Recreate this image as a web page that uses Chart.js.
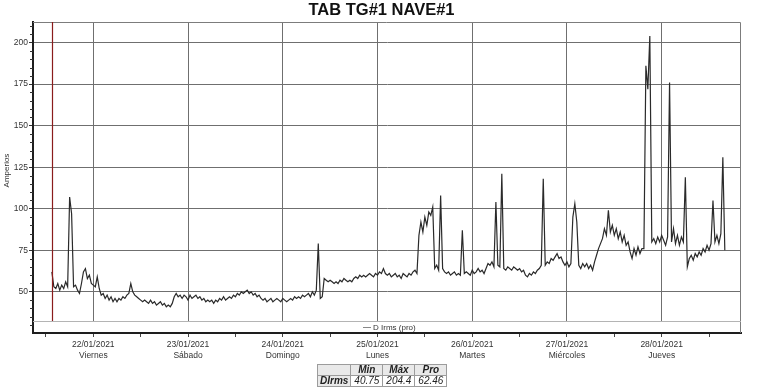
<!DOCTYPE html>
<html>
<head>
<meta charset="utf-8">
<title>TAB TG#1 NAVE#1</title>
<script src="https://cdn.jsdelivr.net/npm/chart.js@4.4.1/dist/chart.umd.min.js"></script>
<style>
  html, body { margin: 0; padding: 0; background: #fff; }
  #wrap { position: relative; width: 763px; height: 389px; }
  #stats {
    position: absolute; left: 317px; top: 364px;
    border-collapse: collapse;
    font-family: "Liberation Sans", Arial, sans-serif;
    font-size: 10px; color: #222;
  }
  #stats td {
    border: 1px solid #9c9c9c; height: 10px; line-height: 10px;
    padding: 0 2px; text-align: center; font-style: italic;
  }
  #stats td.head { background: #e9e9e9; font-weight: bold; }
  #stats td.name { background: #e9e9e9; font-weight: bold; width: 27px; }
  #stats td.val { width: 27px; }
</style>
</head>
<body>
<div id="wrap">
  <canvas id="chart" width="763" height="389"></canvas>
  <table id="stats"></table>
</div>
<script>
// hours counted from 21/01/2021 00:00, one sample every 30 min
const chartTitle = 'TAB TG#1 NAVE#1';
const seriesLabel = 'D Irms (pro)';
const startHour = 13.5;
const stepHours = 0.5;
const irms = [
  62, 53, 52, 55, 51, 54, 52, 56, 53, 107,
  97, 53, 54, 51, 49, 55, 62, 64, 58, 60,
  55, 54, 53, 59, 52, 48, 49, 46, 48, 45,
  47, 44, 46, 44, 46, 45, 47, 46, 48, 49,
  55, 50, 48, 47, 46, 45, 44, 45, 44, 43,
  45, 43, 44, 42, 43, 44, 42, 43, 41, 42,
  41, 43, 47, 49, 47, 48, 46, 48, 47, 45,
  48, 46, 47, 48, 46, 47, 45, 46, 44, 45,
  44, 45, 43, 45, 44, 46, 45, 47, 45, 46,
  47, 46, 48, 47, 49, 48, 50, 49, 50, 51,
  49, 50, 48, 49, 47, 48, 46, 45, 46, 44,
  45, 46, 44, 45, 46, 45, 44, 46, 45, 44,
  45, 46, 45, 47, 46, 47, 46, 48, 47, 48,
  49, 47, 50, 48, 51, 79, 46, 47, 58, 57,
  56, 57, 56, 55, 56, 55, 57, 56, 58, 57,
  56, 57, 56, 58, 59, 58, 60, 59, 60, 59,
  60, 61, 60, 59, 61, 60, 62, 61, 64, 61,
  60, 61, 59, 60, 61, 59, 60, 58, 61, 60,
  59, 61, 60, 62, 63, 61, 84, 92, 86, 95,
  90, 98, 96, 101, 64, 66, 63, 108, 64, 62,
  61, 62, 60, 61, 62, 60, 61, 60, 87, 61,
  62, 61, 60, 63, 61, 62, 64, 62, 63, 61,
  64, 67, 66, 68, 65, 104, 66, 65, 121, 64,
  63, 65, 64, 63, 65, 64, 63, 64, 62, 63,
  60, 59, 61, 60, 62, 61, 63, 64, 66, 118,
  66, 68, 67, 70, 69, 71, 73, 70, 71, 68,
  66, 68, 65, 67, 95, 103, 92, 66, 64, 67,
  65, 67, 64, 66, 63, 68, 72, 76, 79, 82,
  88, 84, 99, 86, 90, 84, 88, 82, 86, 80,
  84, 78, 80, 74, 70, 76, 72, 77, 73, 76,
  76, 186, 172, 204, 80, 82, 79, 83, 80, 84,
  81, 78, 83, 176, 80, 88, 79, 84, 78, 83,
  80, 119, 65, 70, 72, 69, 73, 71, 74, 72,
  76, 74, 78, 75, 79, 105, 80, 84, 79, 85,
  131, 75
];
const xRange = [8.72, 188.1];
const tickHours = [12, 24, 36, 48, 60, 72, 84, 96, 108, 120, 132, 144, 156, 168, 180];
const dayHours = [24, 48, 72, 96, 120, 144, 168];
const dayDates = ['22/01/2021', '23/01/2021', '24/01/2021', '25/01/2021', '26/01/2021', '27/01/2021', '28/01/2021'];
const dayNames = ['Viernes', 'Sábado', 'Domingo', 'Lunes', 'Martes', 'Miércoles', 'Jueves'];
const yRange = [25.2, 212.4];
const yTicks = [50, 75, 100, 125, 150, 175, 200];
const markerHour = 13.5;
const statCols = ['Min', 'Máx', 'Pro'];
const statRow = 'DIrms';
const statVals = ['40.75', '204.4', '62.46'];

Chart.defaults.font.family = '"Liberation Sans", Arial, sans-serif';

const points = irms.map((v, i) => ({ x: startHour + i * stepHours, y: v }));

// extra drawing: frame, red start marker, legend strip, minor y ticks, axis name
const decor = {
  id: 'decor',
  beforeDatasetsDraw(chart) {
    const { ctx, chartArea: a } = chart;
    ctx.save();
    ctx.strokeStyle = '#7c7c7c';
    ctx.lineWidth = 1;
    ctx.beginPath();
    ctx.moveTo(a.left, a.top + 0.5);
    ctx.lineTo(a.right - 0.5, a.top + 0.5);
    ctx.lineTo(a.right - 0.5, a.bottom);
    ctx.stroke();
    ctx.restore();
  },
  afterDatasetsDraw(chart) {
    const { ctx, chartArea: a, scales } = chart;
    const stripTop = a.bottom - 12;
    ctx.save();
    // red marker
    const mx = Math.round(scales.x.getPixelForValue(markerHour)) + 0.5;
    ctx.strokeStyle = '#8a1c1c';
    ctx.lineWidth = 1.2;
    ctx.beginPath();
    ctx.moveTo(mx, a.top);
    ctx.lineTo(mx, stripTop);
    ctx.stroke();
    // legend strip
    ctx.fillStyle = '#fff';
    ctx.fillRect(a.left + 1, stripTop, a.right - a.left - 2, 11);
    ctx.strokeStyle = '#b4b4b4';
    ctx.lineWidth = 1;
    ctx.beginPath();
    ctx.moveTo(a.left, stripTop + 0.5);
    ctx.lineTo(a.right, stripTop + 0.5);
    ctx.stroke();
    ctx.strokeStyle = '#888';
    ctx.beginPath();
    ctx.moveTo(363, stripTop + 6.5);
    ctx.lineTo(371, stripTop + 6.5);
    ctx.stroke();
    ctx.fillStyle = '#333';
    ctx.font = '8px "Liberation Sans", Arial, sans-serif';
    ctx.textBaseline = 'middle';
    ctx.fillText(seriesLabel, 373, stripTop + 6.5);
    // minor ticks on the value axis
    ctx.strokeStyle = '#333';
    ctx.beginPath();
    for (let v = 30; v <= 210; v += 5) {
      if (v % 25 === 0) continue;
      const y = Math.round(scales.y.getPixelForValue(v)) + 0.5;
      ctx.moveTo(a.left - 3, y);
      ctx.lineTo(a.left, y);
    }
    ctx.stroke();
    // axis name
    ctx.translate(7, scales.y.getPixelForValue(123));
    ctx.rotate(-Math.PI / 2);
    ctx.textAlign = 'center';
    ctx.fillText('Amperios', 0, 0);
    ctx.restore();
  }
};

new Chart(document.getElementById('chart'), {
  type: 'line',
  data: {
    datasets: [{
      label: seriesLabel,
      data: points,
      borderColor: '#2a2a2a',
      borderWidth: 1.2,
      pointRadius: 0,
      tension: 0,
      fill: false
    }]
  },
  options: {
    responsive: false,
    animation: false,
    devicePixelRatio: 1,
    events: [],
    layout: { padding: 0 },
    plugins: {
      legend: { display: false },
      tooltip: { enabled: false },
      title: {
        display: true,
        text: chartTitle,
        color: '#111',
        font: { size: 16.5, weight: 'bold' },
        padding: { top: 1, bottom: 1.2 }
      }
    },
    scales: {
      x: {
        type: 'linear',
        min: xRange[0],
        max: xRange[1],
        afterBuildTicks: s => { s.ticks = tickHours.map(v => ({ value: v })); },
        afterFit: s => { s.height = 56; },
        border: { display: true, color: '#1e1e1e', width: 2 },
        grid: {
          color: c => (c.tick && dayHours.includes(c.tick.value)) ? '#6f6f6f' : 'rgba(0,0,0,0)',
          tickColor: '#444',
          tickLength: 4,
          lineWidth: 1
        },
        ticks: {
          autoSkip: false,
          maxRotation: 0,
          padding: 2,
          color: '#333',
          font: { size: 8.5, lineHeight: 1.3 },
          callback: v => {
            const k = dayHours.indexOf(v);
            return k < 0 ? '' : [dayDates[k], dayNames[k]];
          }
        }
      },
      y: {
        min: yRange[0],
        max: yRange[1],
        afterBuildTicks: s => { s.ticks = yTicks.map(v => ({ value: v })); },
        afterFit: s => { s.width = 33; },
        border: { display: true, color: '#1e1e1e', width: 2 },
        grid: { color: '#6f6f6f', tickColor: '#333', tickLength: 4, lineWidth: 1 },
        ticks: { color: '#333', padding: 1, font: { size: 8.5 } }
      },
      // empty right margin so the title centres on the whole page
      side: {
        type: 'linear',
        position: 'right',
        min: 0,
        max: 1,
        afterFit: s => { s.width = 22; },
        grid: { display: false },
        border: { display: false },
        ticks: { display: false }
      }
    }
  },
  plugins: [decor]
});

// statistics table under the chart
const table = document.getElementById('stats');
let html = '<tr><td class="name"></td>' + statCols.map(c => `<td class="head">${c}</td>`).join('') + '</tr>';
html += `<tr><td class="name">${statRow}</td>` + statVals.map(v => `<td class="val">${v}</td>`).join('') + '</tr>';
table.innerHTML = html;
</script>
</body>
</html>
